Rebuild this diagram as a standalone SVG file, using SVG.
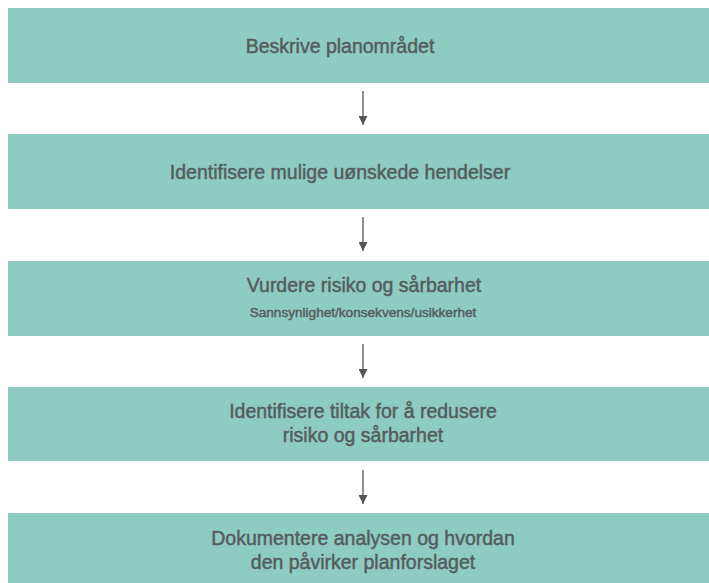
<svg xmlns="http://www.w3.org/2000/svg" width="709" height="583" viewBox="0 0 709 583">
<style>
.box{fill:#8ecbc1}
.t{font-family:"Liberation Sans",Arial,sans-serif;font-size:19.5px;fill:#545d5c;stroke:#545d5c;stroke-width:0.45;text-anchor:middle}
.s{font-family:"Liberation Sans",Arial,sans-serif;font-size:13.6px;fill:#545d5c;stroke:#545d5c;stroke-width:0.45;text-anchor:middle}
.c{stroke:#555;stroke-width:1.3;fill:none;marker-end:url(#ah)}
</style>
<defs>
<marker id="ah" viewBox="0 0 10 10" refX="10" refY="5" markerUnits="userSpaceOnUse" markerWidth="9" markerHeight="9" orient="auto">
<path d="M0,0 L10,5 L0,10 Z" fill="#555"/>
</marker>
</defs>
<rect width="709" height="583" fill="#fff"/>
<g id="n1"><rect class="box" x="8" y="8" width="701" height="75"/><text class="t" x="340" y="53">Beskrive planområdet</text></g>
<g id="n2"><rect class="box" x="8" y="134" width="701" height="75"/><text class="t" x="340" y="179">Identifisere mulige uønskede hendelser</text></g>
<g id="n3"><rect class="box" x="8" y="261" width="701" height="75"/><text class="t" x="364" y="292">Vurdere risiko og sårbarhet</text><text class="s" x="363" y="317">Sannsynlighet/konsekvens/usikkerhet</text></g>
<g id="n4"><rect class="box" x="8" y="387" width="701" height="74"/><text class="t" x="363" y="418">Identifisere tiltak for å redusere</text><text class="t" x="363" y="442">risiko og sårbarhet</text></g>
<g id="n5"><rect class="box" x="8" y="513" width="701" height="70"/><text class="t" x="363" y="545">Dokumentere analysen og hvordan</text><text class="t" x="363" y="569">den påvirker planforslaget</text></g>
<g id="connectors">
<line class="c" x1="363" y1="91" x2="363" y2="125"/>
<line class="c" x1="363" y1="217" x2="363" y2="251"/>
<line class="c" x1="363" y1="344" x2="363" y2="378"/>
<line class="c" x1="363" y1="470" x2="363" y2="504"/>
</g>
</svg>
